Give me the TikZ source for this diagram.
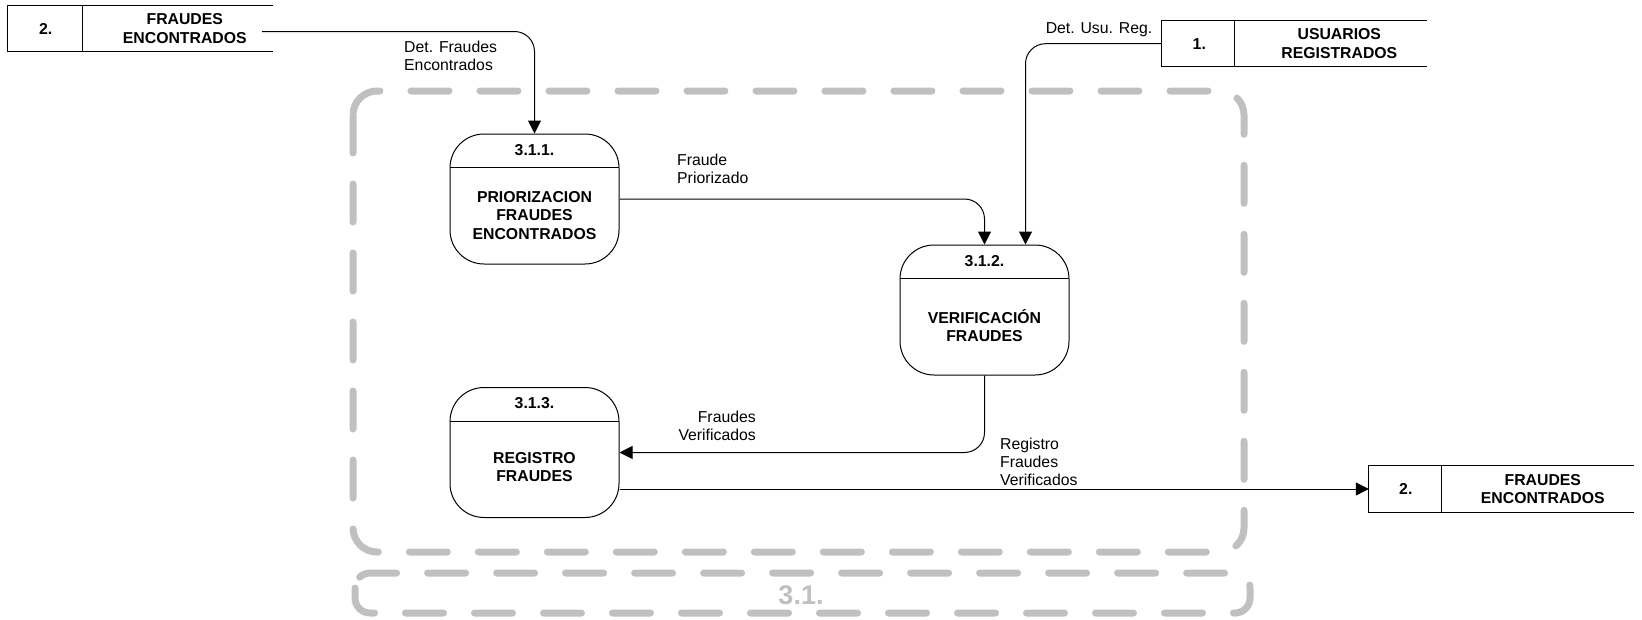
\documentclass[tikz,border=0pt]{standalone}
\usepackage{fontspec}
\setmainfont{Liberation Sans}
\usepackage{xcolor}
\usepackage{tikz}
\usetikzlibrary{arrows.meta}

\definecolor{gris}{RGB}{192,192,192}

\begin{document}
\begin{tikzpicture}[
    x = 1pt, y = -1pt,
    font = \fontsize{15.8}{18}\selectfont,
    proceso/.style = {
        draw, rectangle, rounded corners=34pt, line width=1pt,
        minimum width=169pt, minimum height=130pt, inner sep=0pt
    },
    almacen/.style = {
        rectangle, minimum width=265pt, minimum height=46pt, inner sep=0pt
    },
    titulo/.style = {font=\fontsize{15.8}{18.5}\selectfont\bfseries, align=center, inner sep=0pt},
    etiqueta/.style = {inner sep=0pt},
    flujo/.style = {-{Triangle[length=13pt, width=13pt]}, line width=1pt, rounded corners=20pt},
    limite/.style = {draw=gris, line width=7pt, line cap=round,
        dash pattern=on 38pt off 31pt}
  ]
    \useasboundingbox (0,0) rectangle (1642,619);

    % frontera del proceso 3.1
    \draw[limite, rounded corners=24pt] (353,91) rectangle (1244,552);
    \draw[limite, rounded corners=15pt] (355,573) rectangle (1250,613);
    \node[text=gris, font=\fontsize{27}{30}\selectfont\bfseries] (p31) at (801,595) {3.1.};

    % procesos
    \node[proceso] (p1) at (534.5,199) {};  % 3.1.1
    \node[proceso] (p2) at (984.5,310) {};  % 3.1.2
    \node[proceso] (p3) at (534.5,452.5) {};  % 3.1.3
    \draw[line width=1pt] (p1.north west) ++(0,34) -- ++(169,0);
    \draw[line width=1pt] (p2.north west) ++(0,34) -- ++(169,0);
    \draw[line width=1pt] (p3.north west) ++(0,34) -- ++(169,0);
    \node[titulo] (p1n) at ([yshift=-17pt]p1.north) {3.1.1.};
    \node[titulo] (p2n) at ([yshift=-17pt]p2.north) {3.1.2.};
    \node[titulo] (p3n) at ([yshift=-16pt]p3.north) {3.1.3.};
    \node[titulo] (p1t) at ([yshift=-82pt]p1.north) {PRIORIZACION\\FRAUDES\\ENCONTRADOS};
    \node[titulo] (p2t) at ([yshift=-81pt]p2.north) {VERIFICACIÓN\\FRAUDES};
    \node[titulo] (p3t) at ([yshift=-80pt]p3.north) {REGISTRO\\FRAUDES};

    % almacenes
    \node[almacen] (s2a) at (140.5,28.5) {};  % 2. arriba
    \node[almacen] (s1) at (1294,43.7) {};  % 1.
    \node[almacen] (s2b) at (1501.5,489) {};  % 2. abajo
    \draw[line width=1pt] (s2a.north east) -- (s2a.north west) -- (s2a.south west) -- (s2a.south east);
    \draw[line width=1pt] (s1.north east) -- (s1.north west) -- (s1.south west) -- (s1.south east);
    \draw[line width=1pt] (s2b.north east) -- (s2b.north west) -- (s2b.south west) -- (s2b.south east);
    \draw[line width=1pt] ([xshift=75pt]s2a.north west) -- ([xshift=75pt]s2a.south west);
    \draw[line width=1pt] ([xshift=73pt]s1.north west) -- ([xshift=73pt]s1.south west);
    \draw[line width=1pt] ([xshift=73pt]s2b.north west) -- ([xshift=73pt]s2b.south west);
    \node[titulo] (s2an) at ([xshift=38pt]s2a.west) {2.};
    \node[titulo] (s1n) at ([xshift=38pt]s1.west) {1.};
    \node[titulo] (s2bn) at ([xshift=37pt]s2b.west) {2.};
    \node[titulo] (s2at) at ([xshift=177pt]s2a.west) {FRAUDES\\ENCONTRADOS};
    \node[titulo] (s1t) at ([xshift=178pt]s1.west) {USUARIOS\\REGISTRADOS};
    \node[titulo] (s2bt) at ([xshift=174pt]s2b.west) {FRAUDES\\ENCONTRADOS};

    % flujos
    \draw[flujo] ([xshift=-11pt, yshift=-3pt]s2a.east) -| (p1.north);
    \draw[flujo] (s1.west) -| ([xshift=41pt]p2.north);
    \draw[flujo] (p1.east) -| (p2.north);
    \draw[flujo] (p2.south) |- (p3.east);
    \draw[flujo] (p3.east |- s2b.west) -- (s2b.west);

    % etiquetas
    \node[etiqueta, anchor=west, align=left] (e1) at (404,55.5) {Det. Fraudes\\Encontrados};
    \node[etiqueta, anchor=east] (e2) at (1152.5,29.3) {Det. Usu. Reg.};
    \node[etiqueta, anchor=west, align=left] (e3) at (677,169) {Fraude\\Priorizado};
    \node[etiqueta, anchor=east, align=right] (e4) at (756,426) {Fraudes\\Verificados};
    \node[etiqueta, anchor=west, align=left] (e5) at (1000,462) {Registro\\Fraudes\\Verificados};
\end{tikzpicture}
\end{document}
